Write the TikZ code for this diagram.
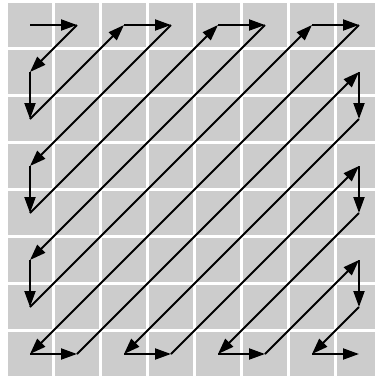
\documentclass[tikz,border=0pt]{standalone}
\usetikzlibrary{arrows.meta}
\definecolor{cellgray}{HTML}{CCCCCC}
\tikzset{
  cell/.style={fill=cellgray, draw=none},
  scan/.style={line width=2pt, -{Triangle[length=16pt, width=11pt]}, black}
}
\begin{document}
\begin{tikzpicture}[x=1pt, y=-1pt]
\useasboundingbox (0,0) rectangle (375,376);
\clip (0,0) rectangle (375,376);
\fill[white] (0,0) rectangle (375,376);
\foreach \i in {0,...,7}{
  \foreach \j in {0,...,7}{
    \coordinate (c-\i-\j) at ({30+47*\i},{25+47*\j});
    \fill[cell] ({8+47*\i},{3+47*\j}) rectangle ({52+47*\i},{47+47*\j});
  }
}
\foreach \a/\b in {0-0/1-0, 1-0/0-1, 0-1/0-2, 0-2/2-0, 2-0/3-0, 3-0/0-3,
  0-3/0-4, 0-4/4-0, 4-0/5-0, 5-0/0-5, 0-5/0-6, 0-6/6-0, 6-0/7-0, 7-0/0-7,
  0-7/1-7, 1-7/7-1, 7-1/7-2, 7-2/2-7, 2-7/3-7, 3-7/7-3, 7-3/7-4, 7-4/4-7,
  4-7/5-7, 5-7/7-5, 7-5/7-6, 7-6/6-7, 6-7/7-7}{
  \draw[scan] (c-\a) -- (c-\b);
}
\end{tikzpicture}
\end{document}
